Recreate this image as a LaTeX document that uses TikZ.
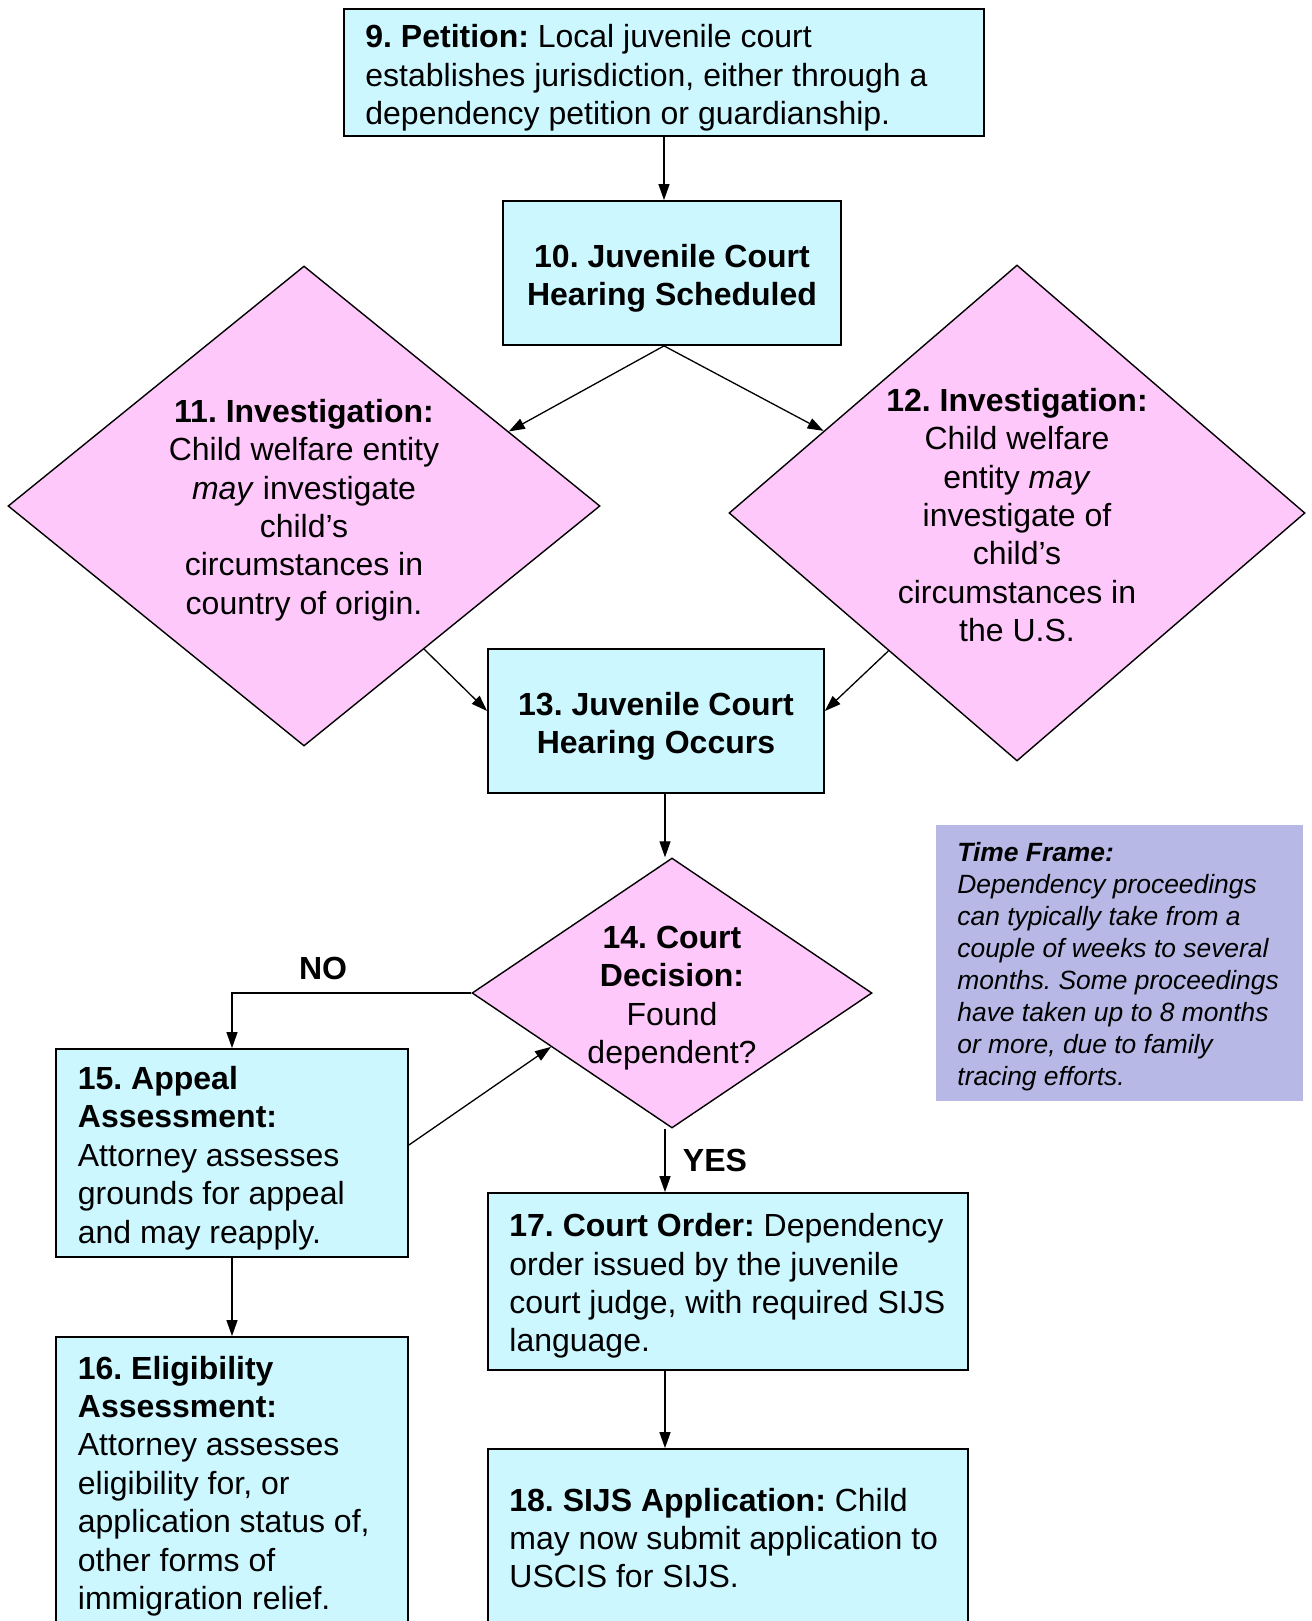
\documentclass[tikz,border=0pt]{standalone}
\usepackage{fontspec}
\setmainfont{Liberation Sans}
\usetikzlibrary{shapes.geometric,arrows.meta,calc}
\definecolor{boxcyan}{HTML}{CCF7FF}
\definecolor{dpink}{HTML}{FFC8FA}
\definecolor{lav}{HTML}{B8B8E6}
\tikzset{
  cbox/.style={draw=black, line width=0.9pt, fill=boxcyan, inner sep=0pt},
  pdia/.style={diamond, draw=black, line width=0.7pt, fill=dpink, inner sep=0pt},
  txt/.style={inner sep=0pt, font=\fontsize{16}{19.2}\selectfont},
  ctxt/.style={txt, align=center},
  ltxt/.style={txt, align=left, anchor=west},
  conn/.style={-{Triangle[length=8pt,width=5.5pt]}, line width=0.65pt},
  lbl/.style={inner sep=0pt, font=\fontsize{16}{19.2}\selectfont\bfseries}
}
\frenchspacing
\begin{document}
\begin{tikzpicture}[x=0.5pt,y=-0.5pt]
\clip (0,0) rectangle (1311,1621);
\fill[white] (0,0) rectangle (1311,1621);
\coordinate (ax) at (665,0);

% boxes
\node[cbox, minimum width=320pt, minimum height=63.5pt] (b9) at (664,72.5) {};
\node[cbox, minimum width=169pt, minimum height=72pt] (b10) at (672,273) {};
\node[pdia, minimum width=296pt, minimum height=240pt] (d11) at (304,506) {};
\node[pdia, minimum width=288pt, minimum height=248pt] (d12) at (1017,513) {};
\node[cbox, minimum width=168pt, minimum height=72pt] (b13) at (656,721) {};
\node[pdia, minimum width=200pt, minimum height=135pt] (d14) at (672,993) {};
\node[cbox, minimum width=176pt, minimum height=104pt] (b15) at (232,1153) {};
\node[cbox, minimum width=176pt, minimum height=145.5pt] (b16) at (232,1482.5) {};
\node[cbox, minimum width=240pt, minimum height=88.5pt] (b17) at (728,1281.5) {};
\node[cbox, minimum width=240pt, minimum height=90pt] (b18) at (728,1539) {};
\node[fill=lav, inner sep=0pt, minimum width=183.5pt, minimum height=138pt] (tf) at (1119.5,963) {};

% texts
\node[ltxt] (t9) at (365,78) {\textbf{9. Petition:} Local juvenile court\\establishes jurisdiction, either through a\\dependency petition or guardianship.};
\node[ctxt] (t10) at (672,278) {\textbf{10. Juvenile Court}\\\textbf{Hearing Scheduled}};
\node[ctxt] (t11) at (304,510) {\textbf{11. Investigation:}\\Child welfare entity\\\textit{may} investigate\\child’s\\circumstances in\\country of origin.};
\node[ctxt] (t12) at (1017,515) {\textbf{12. Investigation:}\\Child welfare\\entity \textit{may}\\investigate of\\child’s\\circumstances in\\the U.S.};
\node[ctxt] (t13) at (656,726) {\textbf{13. Juvenile Court}\\\textbf{Hearing Occurs}};
\node[ctxt] (t14) at (672,998) {\textbf{14. Court}\\\textbf{Decision:}\\Found\\dependent?};
\node[ltxt] (t15) at (77.5,1158) {\textbf{15. Appeal}\\\textbf{Assessment:}\\Attorney assesses\\grounds for appeal\\and may reapply.};
\node[ltxt] (t16) at (77.5,1486) {\textbf{16. Eligibility}\\\textbf{Assessment:}\\Attorney assesses\\eligibility for, or\\application status of,\\other forms of\\immigration relief.};
\node[ltxt] (t17) at (509,1286) {\textbf{17. Court Order:} Dependency\\order issued by the juvenile\\court judge, with required SIJS\\language.};
\node[ltxt] (t18) at (509,1538) {\textbf{18. SIJS Application:} Child\\may now submit application to\\USCIS for SIJS.};
\node[inner sep=0pt, align=left, anchor=west, font=\fontsize{13.2}{16}\selectfont\itshape] (ttf) at (957,967) {\textbf{Time Frame:}\\Dependency proceedings\\can typically take from a\\couple of weeks to several\\months. Some proceedings\\have taken up to 8 months\\or more, due to family\\tracing efforts.};

\node[lbl] (lno) at (323,968) {NO};
\node[lbl] (lyes) at (715,1160) {YES};

% connectors
\draw[conn] (b9.south) -- (b9.south |- b10.north);
\draw[conn] (b9.south |- b10.south) -- (d11.20);
\draw[conn] (b9.south |- b10.south) -- (d12.157);
\draw[conn] (d11.-50) -- ($(b13.west)+(0,-10)$);
\draw[conn] (d12.-133.7) -- ($(b13.east)+(0,-10)$);
\draw[conn] (ax |- b13.south) -- (ax |- d14.north);
\draw[conn] (d14.west) -| (b15.north);
\draw[conn] ($(b15.east)+(0,-8)$) -- (d14.204);
\draw[conn] (ax |- d14.south) -- (ax |- b17.north);
\draw[conn] (b15.south) -- (b16.north);
\draw[conn] (ax |- b17.south) -- (ax |- b18.north);
\end{tikzpicture}
\end{document}
